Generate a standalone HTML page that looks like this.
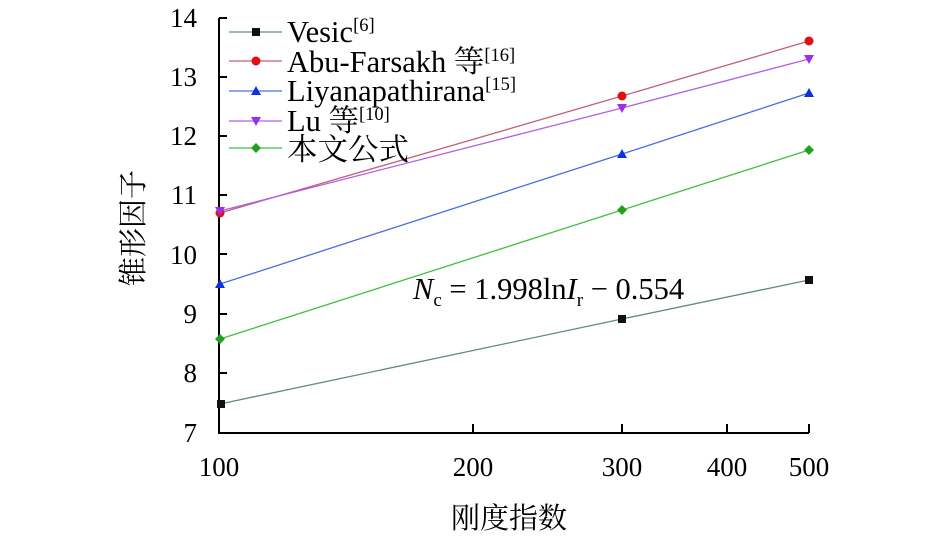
<!DOCTYPE html>
<html><head><meta charset="utf-8"><style>body{margin:0;background:#fff}</style></head><body>
<svg width="945" height="536" xmlns="http://www.w3.org/2000/svg" font-family="'Liberation Serif','Noto Serif CJK SC',serif">
<rect width="945" height="536" fill="#fff"/>
<g stroke="#000" stroke-width="2" fill="none">
<path d="M219,18 V433 H809"/>
<path d="M219,18h8M219,77h8M219,136h8M219,195h8M219,254h8M219,314h8M219,373h8"/>
<path d="M473,433v-9M622,433v-9M727,433v-9M809,433v-9"/>
</g>
<g font-size="27" text-anchor="end" fill="#000">
<text x="197" y="27">14</text><text x="197" y="86">13</text><text x="197" y="145">12</text><text x="197" y="204">11</text><text x="197" y="264">10</text><text x="197" y="323">9</text><text x="197" y="382">8</text><text x="197" y="442">7</text>
</g>
<g font-size="27" text-anchor="middle">
<text x="219" y="476">100</text><text x="473" y="476">200</text><text x="622" y="476">300</text><text x="727" y="476">400</text><text x="809" y="476">500</text>
</g>
<text x="509" y="528" font-size="29" text-anchor="middle">刚度指数</text>
<text transform="translate(143,228) rotate(-90)" font-size="29" text-anchor="middle">锥形因子</text>
<g fill="none" stroke-width="1.3">
<polyline stroke="#5f8a8a" points="220,404 622,319 809,280"/>
<polyline stroke="#c0607a" points="220,213 622,96 809,41"/>
<polyline stroke="#4a6ee0" points="220,284 622,154 809,93"/>
<polyline stroke="#b060e8" points="220,211 622,108 809,59"/>
<polyline stroke="#40c040" points="220,339 622,210 809,150"/>
</g>
<g fill="#111"><rect x="217" y="400" width="8" height="8"/><rect x="618" y="315" width="8" height="8"/><rect x="805" y="276" width="8" height="8"/></g>
<g fill="#e01010"><circle cx="220" cy="213" r="4.5"/><circle cx="622" cy="96" r="4.5"/><circle cx="809" cy="41" r="4.5"/></g>
<g fill="#1030e0"><path d="M220,279l5,9h-10z"/><path d="M622,149l5,9h-10z"/><path d="M809,88l5,9h-10z"/></g>
<g fill="#9a30e8"><path d="M220,216l5,-9h-10z"/><path d="M622,113l5,-9h-10z"/><path d="M809,64l5,-9h-10z"/></g>
<g fill="#20a020"><path d="M220,334l5,5l-5,5l-5,-5z"/><path d="M622,205l5,5l-5,5l-5,-5z"/><path d="M809,145l5,5l-5,5l-5,-5z"/></g>
<g stroke-width="1.3">
<line x1="229" y1="32" x2="282" y2="32" stroke="#5f8a8a"/><rect x="252" y="28" width="8" height="8" fill="#111"/>
<line x1="229" y1="61" x2="282" y2="61" stroke="#c0607a"/><circle cx="256" cy="61" r="4.5" fill="#e01010"/>
<line x1="229" y1="91" x2="282" y2="91" stroke="#4a6ee0"/><path d="M256,86l5,9h-10z" fill="#1030e0"/>
<line x1="229" y1="121" x2="282" y2="121" stroke="#b060e8"/><path d="M256,126l5,-9h-10z" fill="#9a30e8"/>
<line x1="229" y1="148" x2="282" y2="148" stroke="#40c040"/><path d="M256,143l5,5l-5,5l-5,-5z" fill="#20a020"/>
</g>
<g font-size="30.5">
<text x="287" y="42">Vesic<tspan font-size="18.5" dy="-11">[6]</tspan></text>
<text x="287" y="72">Abu-Farsakh 等<tspan font-size="18.5" dy="-11">[16]</tspan></text>
<text x="287" y="101">Liyanapathirana<tspan font-size="18.5" dy="-11">[15]</tspan></text>
<text x="287" y="131">Lu 等<tspan font-size="18.5" dy="-11">[10]</tspan></text>
<text x="287" y="160">本文公式</text>
</g>
<text x="413" y="299" font-size="30.5"><tspan font-style="italic">N</tspan><tspan font-size="19" dy="7">c</tspan><tspan dy="-7"> = 1.998ln</tspan><tspan font-style="italic">I</tspan><tspan font-size="19" dy="7">r</tspan><tspan dy="-7"> − 0.554</tspan></text>
</svg>
</body></html>
